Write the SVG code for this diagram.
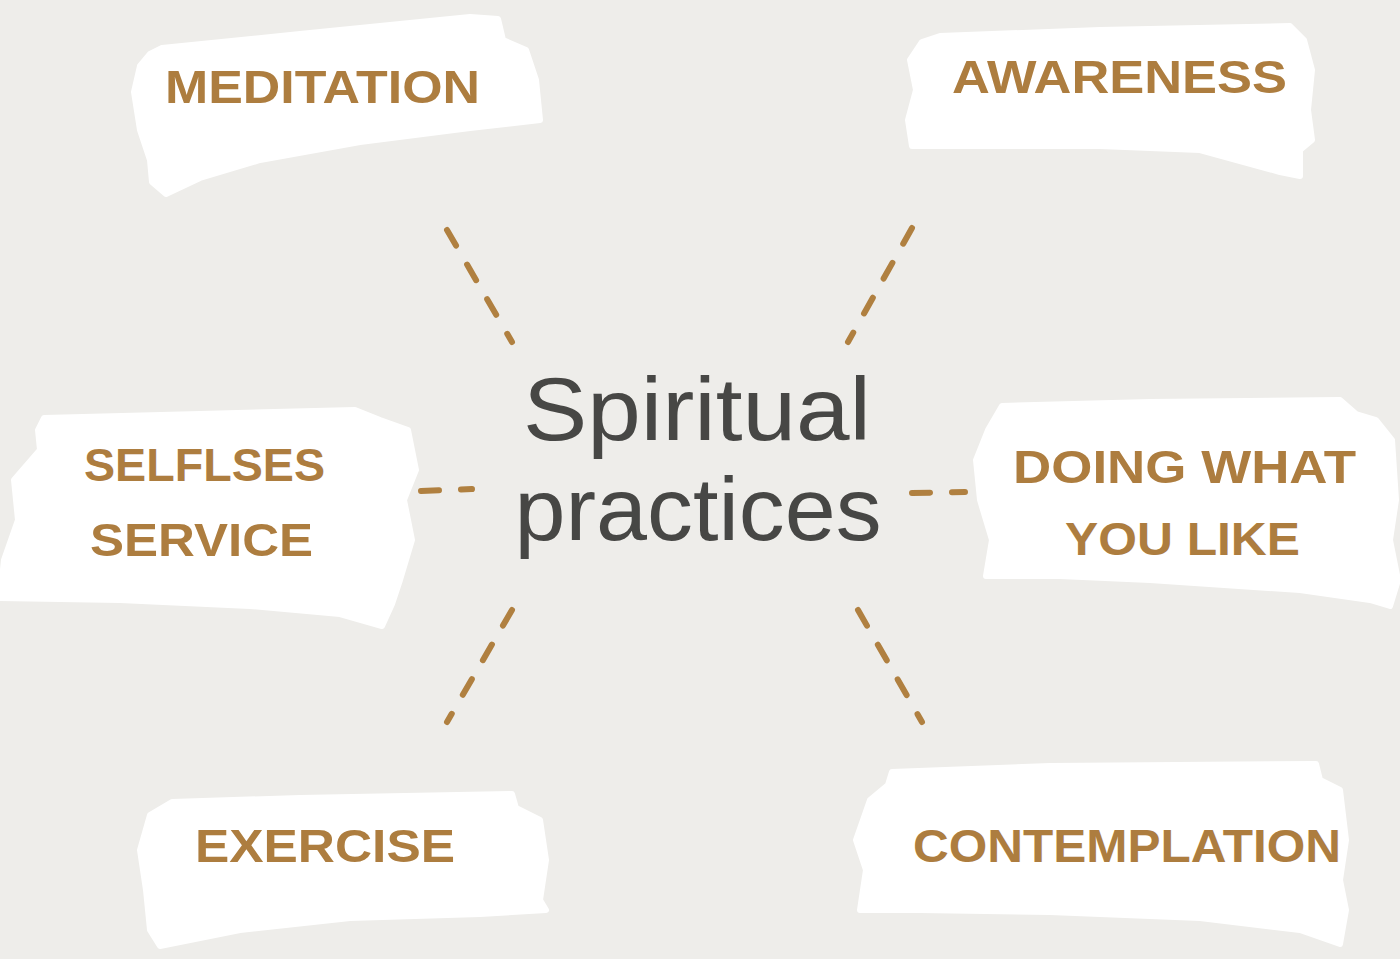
<svg xmlns="http://www.w3.org/2000/svg" width="1400" height="959" viewBox="0 0 1400 959">
<style>
.bg{fill:#eeedea}
.brush{fill:#ffffff;stroke:#ffffff;stroke-width:6;stroke-linejoin:round}
.lbl{font-family:"Liberation Sans",Arial,sans-serif;font-weight:bold;font-size:46px;fill:#ad7d3f;text-anchor:start}
.title{font-family:"Liberation Sans",Arial,sans-serif;font-size:89px;fill:#474745;text-anchor:middle}
.dash{stroke:#b08040;stroke-width:6;stroke-linecap:round;stroke-dasharray:18 22;fill:none}
</style>
<rect class="bg" x="0" y="0" width="1400" height="959"/>
<g id="connectors">
<line class="dash" x1="447" y1="230" x2="512" y2="342"/>
<line class="dash" x1="912" y1="228" x2="848" y2="342"/>
<line class="dash" x1="421" y1="491" x2="472" y2="489"/>
<line class="dash" x1="912" y1="493" x2="965" y2="492"/>
<line class="dash" x1="512" y1="610" x2="447" y2="722"/>
<line class="dash" x1="858" y1="610" x2="922" y2="722"/>
</g>
<g id="center">
<text class="title" x="697" y="440" textLength="348" lengthAdjust="spacingAndGlyphs">Spiritual</text>
<text class="title" x="698" y="540" textLength="367" lengthAdjust="spacingAndGlyphs">practices</text>
</g>
<g id="meditation">
<path class="brush" d="M162,48 L300,34 L470,17 L498,19 L503,40 L526,50 L536,80 L540,120 L470,128 L360,142 L260,160 L200,178 L166,194 L152,182 L150,160 L140,130 L134,92 L140,66 L150,54 Z"/>
<text class="lbl" x="165" y="103" textLength="315" lengthAdjust="spacingAndGlyphs">MEDITATION</text>
</g>
<g id="awareness">
<path class="brush" d="M940,36 L1100,30 L1290,26 L1304,40 L1312,70 L1308,110 L1312,140 L1300,150 L1300,176 L1280,172 L1200,150 L1100,146 L1000,146 L912,146 L908,120 L916,90 L910,60 L922,42 Z"/>
<text class="lbl" x="952" y="93" textLength="335" lengthAdjust="spacingAndGlyphs">AWARENESS</text>
</g>
<g id="selfless">
<path class="brush" d="M44,418 L200,414 L355,410 L380,420 L408,430 L416,470 L404,500 L412,540 L400,580 L392,604 L382,626 L340,614 L250,606 L120,600 L0,598 L4,560 L18,520 L14,480 L40,450 L38,430 Z"/>
<text class="lbl" x="84" y="481" textLength="241" lengthAdjust="spacingAndGlyphs">SELFLSES</text>
<text class="lbl" x="90" y="556" textLength="223" lengthAdjust="spacingAndGlyphs">SERVICE</text>
</g>
<g id="doing">
<path class="brush" d="M1002,406 L1150,402 L1340,400 L1356,414 L1376,420 L1392,440 L1396,500 L1390,540 L1398,580 L1390,606 L1370,600 L1300,590 L1150,580 L1060,576 L986,576 L992,540 L980,500 L976,460 L988,430 Z"/>
<text class="lbl" x="1013" y="483" textLength="343" lengthAdjust="spacingAndGlyphs">DOING WHAT</text>
<text class="lbl" x="1065" y="555" textLength="235" lengthAdjust="spacingAndGlyphs">YOU LIKE</text>
</g>
<g id="exercise">
<path class="brush" d="M172,802 L300,798 L512,794 L516,808 L540,820 L546,860 L540,900 L546,910 L480,914 L350,918 L240,930 L160,946 L150,930 L146,890 L140,850 L150,815 Z"/>
<text class="lbl" x="195" y="862" textLength="260" lengthAdjust="spacingAndGlyphs">EXERCISE</text>
</g>
<g id="contemplation">
<path class="brush" d="M892,772 L1050,766 L1316,764 L1320,780 L1340,790 L1346,840 L1340,880 L1346,910 L1340,944 L1300,930 L1200,918 L1050,912 L920,910 L860,910 L866,870 L856,840 L870,800 L888,785 Z"/>
<text class="lbl" x="913" y="862" textLength="428" lengthAdjust="spacingAndGlyphs">CONTEMPLATION</text>
</g>
</svg>
